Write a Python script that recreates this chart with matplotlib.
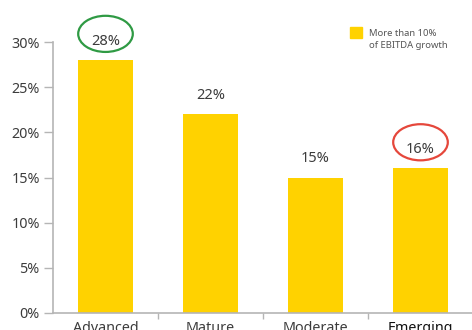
import matplotlib.pyplot as plt
from matplotlib.patches import Ellipse, Rectangle

# bar data
categories = ["Advanced", "Mature", "Moderate", "Emerging"]
growth_share = [28, 22, 15, 16]
circled = {0: "#2f9a44", 3: "#e5473b"}
legend_lines = ["More than 10%", "of EBITDA growth"]

yellow = "#FFD200"
axis_grey = "#b5b5b5"
text_grey = "#3c3c3c"

plt.rcParams["font.family"] = ["Noto Sans", "DejaVu Sans"]

fig = plt.figure(figsize=(4.72, 3.30), dpi=100)
ax = fig.add_axes([53 / 472, 1 - 313 / 330, 420 / 472, 271 / 330])

x = range(len(categories))
ax.bar(x, growth_share, width=0.52, color=yellow, zorder=2)

for i, v in enumerate(growth_share):
    ax.text(i, v + 2.1, f"{v}%", ha="center", va="center",
            fontsize=10.5, color=text_grey)
    if i in circled:
        ax.add_patch(Ellipse((i, v + 2.9), 0.52, 4.0, fill=False,
                             edgecolor=circled[i], linewidth=1.6,
                             clip_on=False, zorder=3))

ax.set_xlim(-0.5, 3.5)
ax.set_ylim(0, 30)

ax.set_yticks(range(0, 31, 5))
ax.set_yticklabels([f"{t}%" for t in range(0, 31, 5)])
ax.tick_params(axis="y", length=6.5, width=1, color=axis_grey,
               labelsize=10.3, labelcolor=text_grey, pad=3)

# boundary ticks between categories, labels centred on the bars
ax.set_xticks([0.5, 1.5, 2.5])
ax.set_xticklabels([])
ax.set_xticks(list(x), minor=True)
ax.set_xticklabels(categories, minor=True)
ax.tick_params(axis="x", which="major", length=4.5, width=1, color=axis_grey)
ax.tick_params(axis="x", which="minor", length=0, pad=6,
               labelsize=10.3, labelcolor=text_grey)
emerging = ax.get_xticklabels(minor=True)[3]
emerging.set_color("#111111")
emerging.set_fontweight("medium")

for side in ["top", "right"]:
    ax.spines[side].set_visible(False)
for side in ["left", "bottom"]:
    ax.spines[side].set_color(axis_grey)
    ax.spines[side].set_linewidth(1.2)

# legend key: yellow square with a two-line caption
fig.patches.append(Rectangle((350 / 472, 1 - 38 / 330), 12 / 472, 11 / 330,
                             transform=fig.transFigure, color=yellow))
for k, line in enumerate(legend_lines):
    fig.text(369 / 472, 1 - (34 + 11 * k) / 330, line, ha="left", va="center",
             fontsize=6.8, color="#555555")

fig.savefig("out.png", dpi=100)
